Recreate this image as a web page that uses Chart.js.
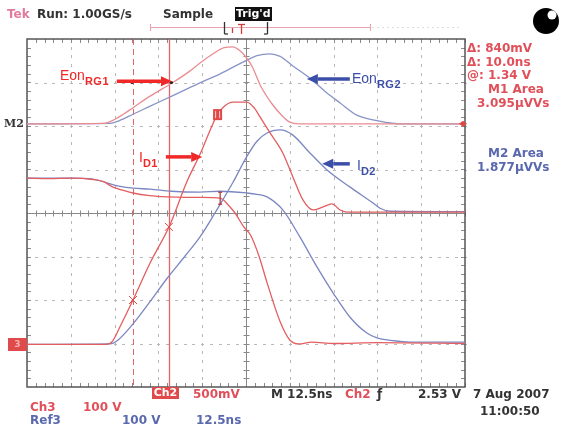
<!DOCTYPE html>
<html>
<head>
<meta charset="utf-8">
<script src="https://cdn.jsdelivr.net/npm/chart.js@4.4.1/dist/chart.umd.min.js"></script>
<style>
html, body { margin: 0; padding: 0; background: #fff; }
#wrap { position: relative; width: 566px; height: 428px; overflow: hidden; background: #fff; }
#scope { position: absolute; left: 0; top: 0; }
.t { position: absolute; white-space: nowrap; font-family: 'DejaVu Sans', sans-serif; font-weight: bold; font-size: 12px; line-height: 14px; }
.r { color: #e0505a; }
.b { color: #5a68ae; }
.k { color: #333; }
.ann { position: absolute; white-space: nowrap; font-family: 'Liberation Sans', Arial, sans-serif; font-size: 14px; line-height: 16px; }
.ann sub { font-size: 11px; font-weight: bold; vertical-align: baseline; position: relative; top: 5px; letter-spacing: 0.5px; }
.red { color: #f02828; }
.blue { color: #3c4fa8; }
</style>
</head>
<body>
<div id="wrap">
  <canvas id="scope" width="566" height="428"></canvas>

  <div class="t" style="left:7px;top:7px;color:#e27a9c;">Tek</div>
  <div class="t k" style="left:37px;top:7px;">Run: 1.00GS/s</div>
  <div class="t k" style="left:163px;top:7px;">Sample</div>
  <div class="t" style="left:235px;top:7px;background:#111;color:#fff;font-size:11px;padding:0 1px;">Trig'd</div>

  <div class="t r" style="left:467px;top:41px;">Δ: 840mV</div>
  <div class="t r" style="left:467px;top:55px;">Δ: 10.0ns</div>
  <div class="t r" style="left:467px;top:68px;">@: 1.34 V</div>
  <div class="t r" style="left:488px;top:82px;">M1 Area</div>
  <div class="t r" style="left:477px;top:96px;">3.095µVVs</div>
  <div class="t b" style="left:488px;top:146px;">M2 Area</div>
  <div class="t b" style="left:477px;top:160px;">1.877µVVs</div>

  <div class="t k" style="left:4px;top:117px;font-family:'DejaVu Serif',serif;font-size:11px;">M2</div>
  <div class="t" style="left:8px;top:338px;width:19px;height:13px;background:#e04a4a;color:#f6b0b0;font-size:9px;line-height:13px;text-align:center;">3</div>

  <div class="t" style="left:152px;top:387px;width:27px;height:12px;background:#e04a4a;color:#fff;font-size:11px;line-height:12px;text-align:center;">Ch2</div>
  <div class="t r" style="left:193px;top:387px;">500mV</div>
  <div class="t k" style="left:271px;top:387px;">M 12.5ns</div>
  <div class="t r" style="left:345px;top:387px;">Ch2</div>
  <div class="t k" style="left:377px;top:387px;">ƒ</div>
  <div class="t k" style="left:418px;top:387px;">2.53 V</div>
  <div class="t k" style="left:473px;top:387px;">7 Aug 2007</div>
  <div class="t k" style="left:480px;top:404px;">11:00:50</div>
  <div class="t r" style="left:30px;top:400px;">Ch3</div>
  <div class="t r" style="left:83px;top:400px;">100 V</div>
  <div class="t b" style="left:30px;top:413px;">Ref3</div>
  <div class="t b" style="left:122px;top:413px;">100 V</div>
  <div class="t b" style="left:196px;top:413px;">12.5ns</div>

  <div class="ann red" style="left:60px;top:67px;">Eon<sub>RG1</sub></div>
  <div class="ann red" style="left:139px;top:149px;">I<sub>D1</sub></div>
  <div class="ann blue" style="left:352px;top:70px;">Eon<sub>RG2</sub></div>
  <div class="ann blue" style="left:357px;top:157px;">I<sub>D2</sub></div>
</div>

<script>
// horizontal: screen divisions (12.5 ns/div), vertical: screen divisions from bottom

// M1 math trace (Eon RG1)
const eonRG1T = [0, 1.75, 2.0, 2.2, 2.42, 2.8, 3.33, 3.7, 3.95, 4.25, 4.5, 4.7, 4.85, 5.0, 5.15, 5.32, 5.6, 5.84, 6.0, 6.2, 10];
const eonRG1V = [6.05, 6.06, 6.15, 6.27, 6.42, 6.68, 7.0, 7.25, 7.45, 7.66, 7.8, 7.82, 7.74, 7.58, 7.35, 6.95, 6.5, 6.22, 6.09, 6.05, 6.05];

// M2 math trace (Eon RG2)
const eonRG2T = [0, 1.9, 2.1, 2.42, 2.8, 3.33, 3.9, 4.41, 4.93, 5.25, 5.55, 5.78, 6.07, 6.46, 6.8, 7.15, 7.53, 7.9, 8.22, 8.5, 10];
const eonRG2V = [6.05, 6.06, 6.12, 6.27, 6.45, 6.7, 6.97, 7.2, 7.47, 7.62, 7.66, 7.6, 7.38, 7.1, 6.8, 6.53, 6.25, 6.14, 6.08, 6.05, 6.05];

// drain current, RG1 (red)
const id1T = [0, 1.8, 1.95, 2.12, 2.42, 2.81, 3.26, 3.65, 3.95, 4.2, 4.34, 4.5, 4.7, 5.02, 5.2, 5.32, 5.55, 5.84, 6.07, 6.3, 6.53, 6.76, 6.96, 7.15, 7.31, 10];
const id1V = [0.98, 0.98, 1.05, 1.38, 2.0, 2.85, 3.72, 4.72, 5.35, 5.95, 6.25, 6.45, 6.55, 6.55, 6.4, 6.21, 5.84, 5.38, 4.83, 4.3, 4.07, 4.14, 4.21, 4.07, 4.02, 4.02];

// drain current, RG2 (blue)
const id2T = [0, 1.9, 2.1, 2.42, 2.8, 3.2, 3.6, 3.95, 4.41, 4.7, 5.02, 5.25, 5.48, 5.78, 6.07, 6.46, 6.85, 7.37, 7.9, 8.06, 8.3, 10];
const id2V = [0.98, 0.99, 1.1, 1.45, 1.95, 2.5, 3.0, 3.45, 4.2, 4.7, 5.3, 5.65, 5.84, 5.91, 5.79, 5.38, 4.99, 4.6, 4.23, 4.11, 4.04, 4.03];

// drain voltage Ch3 (red)
const vds1T = [0, 0.5, 1.0, 1.5, 1.75, 1.95, 2.2, 2.42, 2.8, 3.2, 3.6, 4.0, 4.41, 4.6, 4.75, 4.95, 5.1, 5.3, 5.48, 5.78, 6.0, 6.2, 6.5, 7.0, 8.0, 10];
const vds1V = [4.8, 4.79, 4.8, 4.77, 4.72, 4.6, 4.52, 4.46, 4.4, 4.37, 4.36, 4.36, 4.34, 4.18, 4.0, 3.68, 3.5, 3.0, 2.4, 1.5, 1.08, 0.99, 1.03, 1.0, 1.02, 1.0];

// drain voltage Ref3 (blue)
const vds2T = [0, 0.5, 1.0, 1.5, 1.8, 2.1, 2.42, 2.81, 3.3, 3.95, 4.41, 5.02, 5.25, 5.48, 5.84, 6.23, 6.62, 6.99, 7.37, 7.76, 7.99, 8.52, 9.0, 10];
const vds2V = [4.8, 4.8, 4.8, 4.78, 4.7, 4.62, 4.57, 4.55, 4.5, 4.48, 4.5, 4.46, 4.43, 4.37, 4.07, 3.45, 2.76, 2.16, 1.61, 1.24, 1.13, 1.05, 1.03, 1.03];

// cursor positions (divisions)
const cursorA = 2.42;
const cursorB = 3.24;

function pts(ts, vs) {
    return ts.map((t, i) => ({ x: t, y: vs[i] }));
}

function valueAt(ts, vs, t) {
    for (let i = 1; i < ts.length; i++) {
        if (t <= ts[i]) {
            const f = (t - ts[i - 1]) / (ts[i] - ts[i - 1]);
            return vs[i - 1] + f * (vs[i] - vs[i - 1]);
        }
    }
    return vs[vs.length - 1];
}

function line(ctx, x1, y1, x2, y2) {
    ctx.beginPath();
    ctx.moveTo(x1, y1);
    ctx.lineTo(x2, y2);
    ctx.stroke();
}

function arrow(ctx, x1, y1, x2, y2, color) {
    const ang = Math.atan2(y2 - y1, x2 - x1);
    const hl = 11, hw = 5;
    const bx = x2 - hl * Math.cos(ang), by = y2 - hl * Math.sin(ang);
    ctx.strokeStyle = color;
    ctx.fillStyle = color;
    ctx.lineWidth = 3.5;
    line(ctx, x1, y1, bx, by);
    ctx.beginPath();
    ctx.moveTo(x2, y2);
    ctx.lineTo(bx - hw * Math.sin(ang), by + hw * Math.cos(ang));
    ctx.lineTo(bx + hw * Math.sin(ang), by - hw * Math.cos(ang));
    ctx.closePath();
    ctx.fill();
}

const graticule = {
    id: 'graticule',
    beforeDatasetsDraw(chart) {
        const ctx = chart.ctx;
        const xs = chart.scales.x, ys = chart.scales.y;
        const { left, right, top, bottom } = chart.chartArea;
        const cx = Math.round(xs.getPixelForValue(5)) + 0.5;
        const cy = Math.round(ys.getPixelForValue(4)) + 0.5;
        ctx.save();

        // dotted grid
        ctx.fillStyle = '#b8b8b8';
        for (let i = 1; i < 10; i++) {
            if (i === 5) continue;
            const x = Math.round(xs.getPixelForValue(i));
            for (let v = 0.2; v < 8; v += 0.2) {
                ctx.fillRect(x, Math.round(ys.getPixelForValue(v)) - 1, 1, 3);
            }
        }
        for (let j = 1; j < 8; j++) {
            if (j === 4) continue;
            const y = Math.round(ys.getPixelForValue(j));
            for (let v = 0.2; v < 10; v += 0.2) {
                ctx.fillRect(Math.round(xs.getPixelForValue(v)) - 1, y, 3, 1);
            }
        }

        // centre cross with minor ticks
        ctx.strokeStyle = '#8a8a8a';
        ctx.lineWidth = 1;
        line(ctx, left, cy, right, cy);
        line(ctx, cx, top, cx, bottom);
        for (let v = 0.2; v < 10; v += 0.2) {
            const x = Math.round(xs.getPixelForValue(v)) + 0.5;
            line(ctx, x, cy - 3, x, cy + 3);
            line(ctx, x, top, x, top + 4);
            line(ctx, x, bottom - 4, x, bottom);
        }
        for (let v = 0.2; v < 8; v += 0.2) {
            const y = Math.round(ys.getPixelForValue(v)) + 0.5;
            line(ctx, cx - 3, y, cx + 3, y);
            line(ctx, left, y, left + 4, y);
            line(ctx, right - 4, y, right, y);
        }

        // border
        ctx.strokeStyle = '#555';
        ctx.lineWidth = 1.5;
        ctx.strokeRect(left, top, right - left, bottom - top);

        // cursors
        ctx.strokeStyle = '#e26464';
        ctx.lineWidth = 1;
        const xa = Math.round(xs.getPixelForValue(cursorA)) + 0.5;
        const xb = Math.round(xs.getPixelForValue(cursorB)) + 0.5;
        ctx.setLineDash([6, 4]);
        line(ctx, xa, top, xa, bottom);
        ctx.setLineDash([]);
        ctx.lineWidth = 1.3;
        line(ctx, xb, top, xb, bottom + 2);
        ctx.restore();
    },
    afterDatasetsDraw(chart) {
        const ctx = chart.ctx;
        const xs = chart.scales.x, ys = chart.scales.y;
        const px = v => xs.getPixelForValue(v);
        const py = v => ys.getPixelForValue(v);
        ctx.save();

        // cursor crossings on ID1
        ctx.strokeStyle = '#e04848';
        ctx.lineWidth = 1;
        [cursorA, cursorB].forEach(c => {
            const x = px(c), y = py(valueAt(id1T, id1V, c));
            line(ctx, x - 4, y - 4, x + 4, y + 4);
            line(ctx, x - 4, y + 4, x + 4, y - 4);
        });

        // black tracking dots on the Eon RG1 arrow line
        ctx.fillStyle = '#222';
        [cursorA, cursorB + 0.08].forEach(c => {
            ctx.beginPath();
            ctx.arc(px(c) - 1, py(7.0), 1.6, 0, Math.PI * 2);
            ctx.fill();
        });

        // M1 reference marker on the right edge
        const mx = chart.chartArea.right - 2, my = py(6.05);
        ctx.fillStyle = '#e04848';
        ctx.beginPath();
        ctx.moveTo(mx - 4, my); ctx.lineTo(mx, my - 3); ctx.lineTo(mx + 4, my); ctx.lineTo(mx, my + 3);
        ctx.closePath();
        ctx.fill();

        // "II" box on ID1 and trigger marker on Vds1
        const bx = px(4.34), by = py(6.25);
        ctx.fillStyle = '#e04848';
        ctx.fillRect(bx - 4, by - 6, 9, 11);
        ctx.fillStyle = '#fbd0d0';
        ctx.fillRect(bx - 2, by - 4, 1, 7);
        ctx.fillRect(bx + 2, by - 4, 1, 7);
        const tx = px(4.41), ty = py(4.34);
        ctx.strokeStyle = '#b03030';
        ctx.lineWidth = 1.2;
        line(ctx, tx, ty - 6, tx, ty + 6);
        line(ctx, tx - 2, ty - 6, tx + 2, ty - 6);
        line(ctx, tx - 2, ty + 6, tx + 2, ty + 6);

        // annotation arrows
        arrow(ctx, px(2.05), py(7.03), px(3.31), py(7.03), '#f02828');
        arrow(ctx, px(3.17), py(5.29), px(4.0), py(5.29), '#f02828');
        arrow(ctx, px(7.37), py(7.08), px(6.39), py(7.08), '#3c4fa8');
        arrow(ctx, px(7.37), py(5.13), px(6.74), py(5.13), '#3c4fa8');
        ctx.restore();
    },
    afterDraw(chart) {
        const ctx = chart.ctx;
        ctx.save();
        // record bar
        ctx.strokeStyle = '#eaa2ae';
        ctx.lineWidth = 1;
        line(ctx, 150, 27.5, 371, 27.5);
        line(ctx, 150.5, 24, 150.5, 31);
        line(ctx, 370.5, 24, 370.5, 31);
        ctx.strokeStyle = '#ddd';
        ctx.setLineDash([2, 3]);
        line(ctx, 372, 27.5, 462, 27.5);
        ctx.setLineDash([]);
        ctx.strokeStyle = '#333';
        ctx.lineWidth = 1.3;
        line(ctx, 224.5, 22, 224.5, 34);
        line(ctx, 224.5, 34, 228, 34);
        line(ctx, 267.5, 22, 267.5, 34);
        line(ctx, 267.5, 34, 264, 34);
        ctx.strokeStyle = '#d03c3c';
        line(ctx, 241.5, 24, 241.5, 34);
        line(ctx, 238, 24.5, 245, 24.5);
        line(ctx, 232.5, 28, 232.5, 33);
        // scope status ball
        ctx.fillStyle = '#000';
        ctx.beginPath();
        ctx.arc(546, 21, 13, 0, Math.PI * 2);
        ctx.fill();
        ctx.fillStyle = '#fff';
        ctx.beginPath();
        ctx.arc(552, 15, 4.5, 0, Math.PI * 2);
        ctx.fill();
        ctx.restore();
    }
};

const traceStyle = {
    showLine: true,
    pointRadius: 0,
    borderWidth: 1.3,
    cubicInterpolationMode: 'monotone',
    fill: false
};

new Chart(document.getElementById('scope'), {
    type: 'scatter',
    data: {
        datasets: [
            { label: 'Eon RG1', data: pts(eonRG1T, eonRG1V), borderColor: '#e98d92', ...traceStyle },
            { label: 'Eon RG2', data: pts(eonRG2T, eonRG2V), borderColor: '#8994c6', ...traceStyle },
            { label: 'ID1', data: pts(id1T, id1V), borderColor: '#e35e60', ...traceStyle },
            { label: 'ID2', data: pts(id2T, id2V), borderColor: '#7b87c2', ...traceStyle },
            { label: 'VDS Ch3', data: pts(vds1T, vds1V), borderColor: '#e35e60', ...traceStyle },
            { label: 'VDS Ref3', data: pts(vds2T, vds2V), borderColor: '#7b87c2', ...traceStyle }
        ]
    },
    options: {
        responsive: false,
        animation: false,
        devicePixelRatio: 1,
        layout: { padding: { left: 27, top: 39, right: 101, bottom: 41 } },
        plugins: {
            legend: { display: false },
            tooltip: { enabled: false }
        },
        scales: {
            x: { type: 'linear', min: 0, max: 10, display: false },
            y: { type: 'linear', min: 0, max: 8, display: false }
        }
    },
    plugins: [graticule]
});
</script>
</body>
</html>
